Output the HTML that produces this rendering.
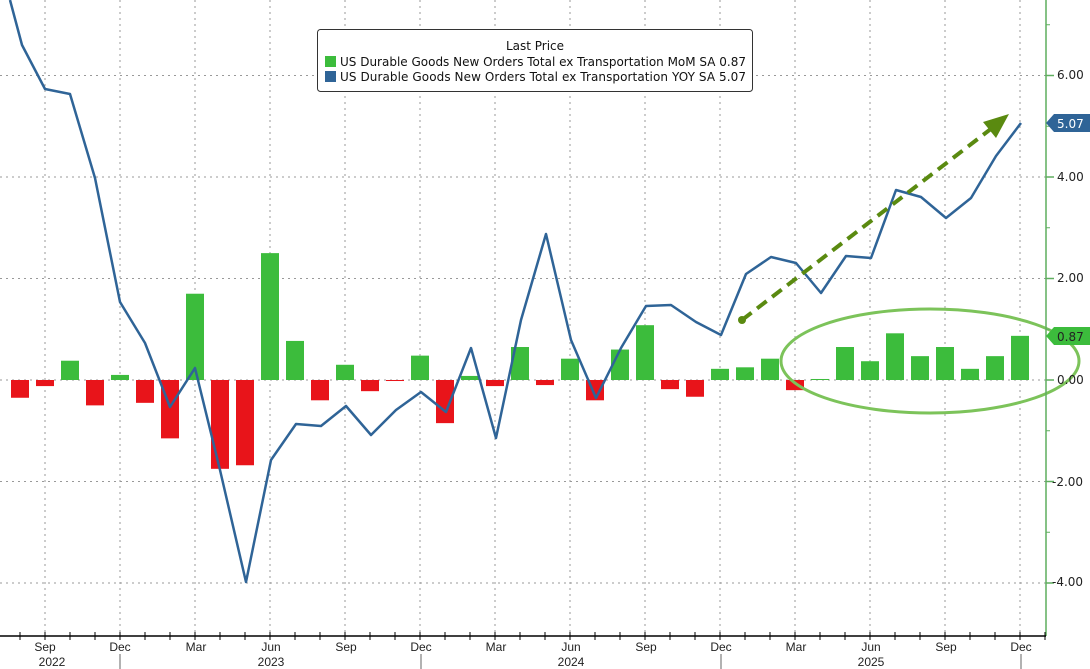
<!DOCTYPE html>
<html><head><meta charset="utf-8"><style>
html,body{margin:0;padding:0;background:#fff;}
svg{display:block;font-family:"DejaVu Sans","Liberation Sans",sans-serif;}
</style></head><body>
<svg id="c" width="1090" height="669" viewBox="0 0 1090 669" xmlns="http://www.w3.org/2000/svg">
<g id="grid"></g>
<g id="bars"></g>
<polyline id="line" fill="none" stroke="#2f6497" stroke-width="2.5" stroke-linejoin="round"/>
<ellipse cx="930" cy="361" rx="149" ry="52" fill="none" stroke="#7cc35a" stroke-width="3"/>
<line x1="742" y1="320" x2="996" y2="125" stroke="#5a8a10" stroke-width="4" stroke-dasharray="12,7"/>
<polygon points="1009,114 983,122 996,138" fill="#5a8a10"/>
<circle cx="742" cy="320" r="4" fill="#5a8a10"/>
<line x1="1046" y1="0" x2="1046" y2="636" stroke="#5fae5f" stroke-width="1.5"/>
<line x1="0" y1="636" x2="1046" y2="636" stroke="#000" stroke-width="1.5"/>
<g id="ticks"></g>
<g font-size="12" fill="#222">
<text x="1057" y="79">6.00</text>
<text x="1057" y="181">4.00</text>
<text x="1057" y="282">2.00</text>
<text x="1057" y="384">0.00</text>
<text x="1052" y="486">-2.00</text>
<text x="1052" y="586">-4.00</text>
</g>
<polygon points="1046,123 1054,114 1090,114 1090,132 1054,132" fill="#2f6497"/>
<text x="1057" y="128" font-size="12" fill="#fff">5.07</text>
<polygon points="1046,336 1054,327 1090,327 1090,345 1054,345" fill="#3cbc3c"/>
<text x="1057" y="341" font-size="12" fill="#222">0.87</text>
<g font-size="12" fill="#222" text-anchor="middle" font-family="Liberation Sans Narrow,Liberation Sans,sans-serif">
<text x="45" y="651">Sep</text><text x="120" y="651">Dec</text><text x="196" y="651">Mar</text><text x="271" y="651">Jun</text>
<text x="346" y="651">Sep</text><text x="421" y="651">Dec</text><text x="496" y="651">Mar</text><text x="571" y="651">Jun</text>
<text x="646" y="651">Sep</text><text x="721" y="651">Dec</text><text x="796" y="651">Mar</text><text x="871" y="651">Jun</text>
<text x="946" y="651">Sep</text><text x="1021" y="651">Dec</text>
<text x="52" y="666">2022</text><text x="271" y="666">2023</text><text x="571" y="666">2024</text><text x="871" y="666">2025</text>
</g>
<rect x="317.5" y="29.5" width="435" height="62" rx="3" fill="#fff" stroke="#333"/>
<text x="535" y="50" font-size="12" text-anchor="middle" fill="#111">Last Price</text>
<rect x="325" y="56" width="11" height="11" fill="#3cbc3c"/>
<rect x="325" y="71" width="11" height="11" fill="#2f6497"/>
<g font-size="12" fill="#111">
<text x="340" y="66" textLength="406">US Durable Goods New Orders Total ex Transportation MoM SA 0.87</text>
<text x="340" y="81" textLength="406">US Durable Goods New Orders Total ex Transportation YOY SA  5.07</text>
</g>
</svg>
<script>
var ns="http://www.w3.org/2000/svg";
function el(p,t,a){var e=document.createElementNS(ns,t);for(var k in a)e.setAttribute(k,a[k]);document.getElementById(p).appendChild(e);return e;}
function y(v){return 380-50.75*v;}
[6,4,2,0,-2,-4].forEach(function(v){el("grid","line",{x1:0,x2:1046,y1:y(v),y2:y(v),stroke:"#999","stroke-dasharray":"2,4","stroke-width":1});
el("ticks","line",{x1:1046,x2:1054,y1:y(v),y2:y(v),stroke:"#5fae5f","stroke-width":1.5});});
[5,3,1,-1,-3,7].forEach(function(v){el("ticks","line",{x1:1046,x2:1050,y1:y(v),y2:y(v),stroke:"#5fae5f"});});
for(var m=1;m<=40;m+=3){var x=20+25*m;el("grid","line",{x1:x,x2:x,y1:0,y2:636,stroke:"#999","stroke-dasharray":"2,4"});}
for(var m=-1;m<=41;m++){var x=20+25*m;el("ticks","line",{x1:x,x2:x,y1:632,y2:640,stroke:"#000"});}
[[120,669],[421,669],[721,669],[1021,669]].forEach(function(a){el("ticks","line",{x1:a[0],x2:a[0],y1:654,y2:669,stroke:"#666"});});
var b=[-0.35,-0.12,0.38,-0.5,0.1,-0.45,-1.15,1.7,-1.75,-1.68,2.5,0.77,-0.4,0.3,-0.22,-0.02,0.48,-0.85,0.08,-0.12,0.65,-0.1,0.42,-0.4,0.6,1.08,-0.18,-0.33,0.22,0.25,0.42,-0.2,0.02,0.65,0.37,0.92,0.47,0.65,0.22,0.47,0.87];
el("bars","rect",{x:-9,y:y(0.07),width:9,height:50.75*0.07,fill:"#3cbc3c"});
b.forEach(function(v,i){var x=20+25*i-9;el("bars","rect",{x:x,y:v>0?y(v):380,width:18,height:Math.abs(v)*50.75,fill:v>0?"#3cbc3c":"#e8141a"});});
document.getElementById("line").setAttribute("points","10,0 22,45 45,89 70,94 95,178 120,302 145,343 170,407 195,368 220,470 246,582 271,460 296,424 321,426 346,406 371,435 396,410 421,392 446,412 471,348 496,438 521,320 546,234 571,340 596,398 621,348 646,306 671,305 696,322 721,335 746,274 771,257 796,263 821,293 846,256 871,258 896,190 921,197 946,218 971,198 996,156 1021,123");
</script>
</body></html>
